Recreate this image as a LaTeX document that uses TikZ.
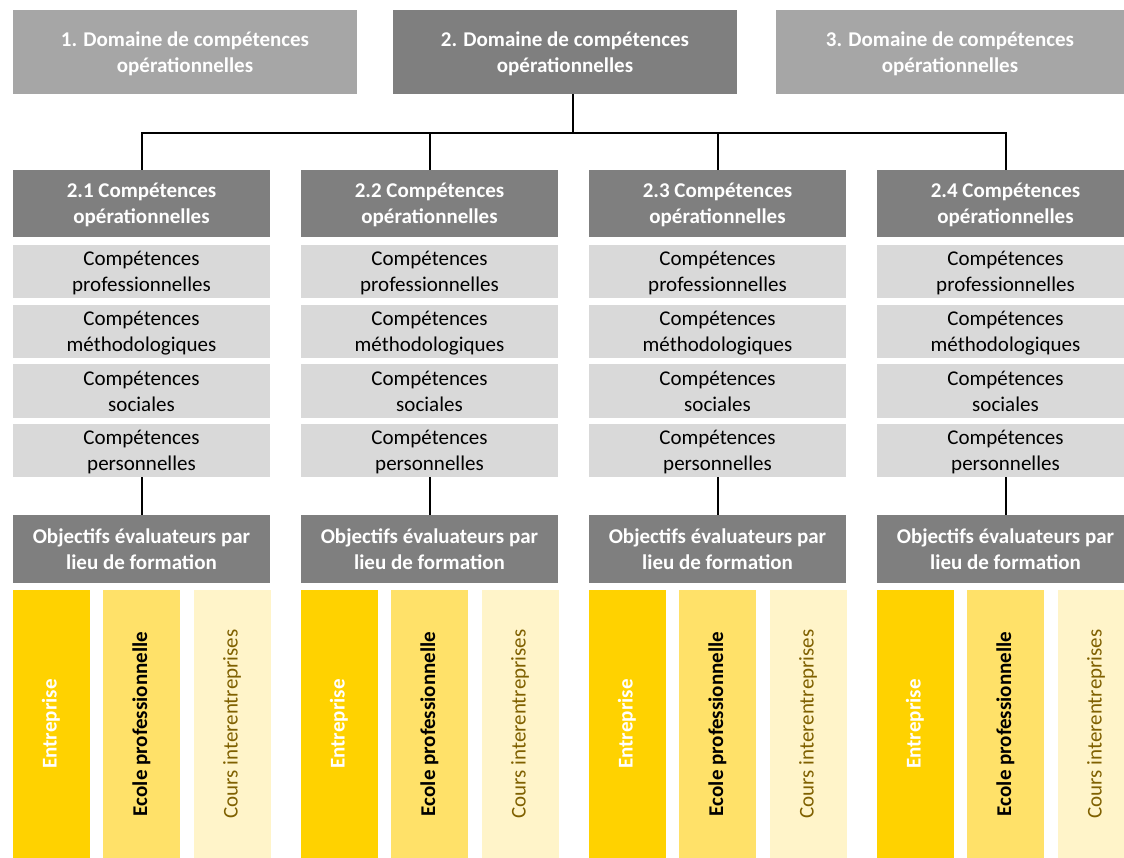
\documentclass[tikz,border=0pt]{standalone}
\usepackage{fontspec}
\usepackage{graphicx}
\setmainfont{Carlito}
\definecolor{domlight}{HTML}{A6A6A6}
\definecolor{domdark}{HTML}{7F7F7F}
\definecolor{complight}{HTML}{D9D9D9}
\definecolor{gold1}{HTML}{FFD200}
\definecolor{gold2}{HTML}{FFE169}
\definecolor{gold3}{HTML}{FFF4C9}
\definecolor{olive}{HTML}{7F6000}
\begin{document}
\begin{tikzpicture}[x=1pt,y=-1pt,
    every node/.style={align=center,inner sep=0pt,font=\fontsize{21}{26}\selectfont},
    headbox/.style={fill=#1,text=white,text depth=0pt,font=\bfseries\fontsize{21}{26}\selectfont},
    compbox/.style={fill=complight,text depth=0pt,minimum width=257pt,minimum height=53pt},
    barbox/.style={fill=#1,minimum width=77pt,minimum height=268pt}]
    \useasboundingbox (0,0) rectangle (1124,858);
    \clip (0,0) rectangle (1124,858);

    % domaines
    \node[headbox=domlight,minimum width=344pt,minimum height=84pt] (dom1) at (185,52) {1. Domaine de compétences\\opérationnelles};
    \node[headbox=domdark,minimum width=344pt,minimum height=84pt] (dom2) at (565,52) {2. Domaine de compétences\\opérationnelles};
    \node[headbox=domlight,minimum width=348pt,minimum height=84pt] (dom3) at (950,52) {3. Domaine de compétences\\opérationnelles};
    \coordinate (split) at (573,133);
    \draw[line width=2pt] (dom2.south -| split) -- (split);

    % colonnes 2.1 - 2.4
    \foreach \i in {1,...,4}{
        \pgfmathsetmacro{\cx}{141.5+288*(\i-1)}
        \node[headbox=domdark,minimum width=257pt,minimum height=67pt] (comp-\i) at (\cx,203.5) {2.\i\ Compétences\\opérationnelles};
        \node[compbox] (pro-\i) at (\cx,271.5) {Compétences\\professionnelles};
        \node[compbox] (met-\i) at (\cx,331.5) {Compétences\\méthodologiques};
        \node[compbox] (soc-\i) at (\cx,391) {Compétences\\sociales};
        \node[compbox] (per-\i) at (\cx,450.5) {Compétences\\personnelles};
        \node[headbox=domdark,minimum width=257pt,minimum height=68pt] (obj-\i) at (\cx,549) {Objectifs évaluateurs par\\lieu de formation};
        \node[barbox=gold1,text=white,font=\bfseries\fontsize{21}{26}\selectfont] (ent-\i) at (\cx-90.5,724) {\rotatebox{90}{Entreprise}};
        \node[barbox=gold2,text=black,font=\bfseries\fontsize{21}{26}\selectfont] (eco-\i) at (\cx,724) {\rotatebox{90}{Ecole professionnelle}};
        \node[barbox=gold3,text=olive] (cou-\i) at (\cx+90.5,724) {\rotatebox{90}{Cours interentreprises}};
        \draw[line width=2pt] (split) -| (comp-\i.north);
        \draw[line width=2pt] (per-\i.south) -- (obj-\i.north);
    }
\end{tikzpicture}
\end{document}
